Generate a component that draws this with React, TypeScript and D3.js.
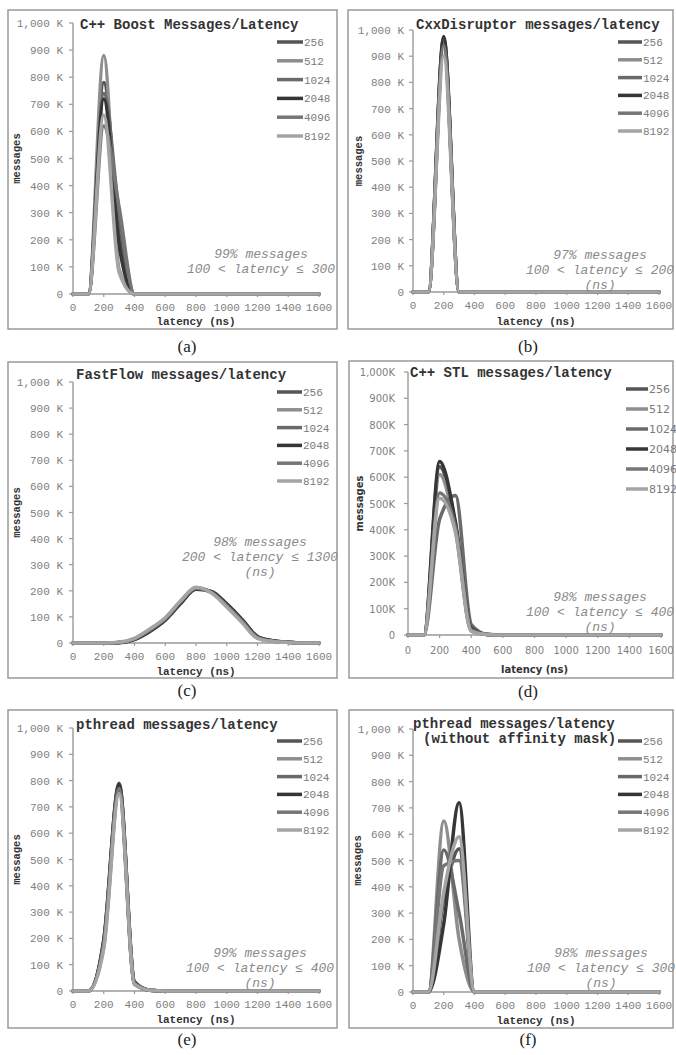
import React from "react";
import * as d3 from "d3";

// ---------- DATA ----------
const latency: number[] = [0, 100, 200, 300, 400, 500, 600, 700, 800, 900, 1000, 1100, 1200, 1300, 1400, 1500, 1600];
const seriesNames: string[] = ["256", "512", "1024", "2048", "4096", "8192"];
const xTicks: number[] = [0, 200, 400, 600, 800, 1000, 1200, 1400, 1600];
const yTicks: number[] = [0, 100, 200, 300, 400, 500, 600, 700, 800, 900, 1000];

// values in K messages, one row per series (256..8192)
const boostSeries: number[][] = [
  [0, 0, 780, 220, 0, 0, 0, 0, 0, 0, 0, 0, 0, 0, 0, 0, 0],
  [0, 0, 880, 90, 0, 0, 0, 0, 0, 0, 0, 0, 0, 0, 0, 0, 0],
  [0, 0, 740, 300, 0, 0, 0, 0, 0, 0, 0, 0, 0, 0, 0, 0, 0],
  [0, 0, 720, 180, 0, 0, 0, 0, 0, 0, 0, 0, 0, 0, 0, 0, 0],
  [0, 0, 620, 320, 0, 0, 0, 0, 0, 0, 0, 0, 0, 0, 0, 0, 0],
  [0, 0, 660, 80, 0, 0, 0, 0, 0, 0, 0, 0, 0, 0, 0, 0, 0],
];
const disruptorSeries: number[][] = [
  [0, 0, 970, 0, 0, 0, 0, 0, 0, 0, 0, 0, 0, 0, 0, 0, 0],
  [0, 0, 950, 0, 0, 0, 0, 0, 0, 0, 0, 0, 0, 0, 0, 0, 0],
  [0, 0, 960, 0, 0, 0, 0, 0, 0, 0, 0, 0, 0, 0, 0, 0, 0],
  [0, 0, 975, 0, 0, 0, 0, 0, 0, 0, 0, 0, 0, 0, 0, 0, 0],
  [0, 0, 940, 0, 0, 0, 0, 0, 0, 0, 0, 0, 0, 0, 0, 0, 0],
  [0, 0, 900, 0, 0, 0, 0, 0, 0, 0, 0, 0, 0, 0, 0, 0, 0],
];
const fastflowSeries: number[][] = [
  [0, 0, 0, 2, 15, 48, 90, 155, 210, 195, 145, 85, 22, 8, 3, 0, 0],
  [0, 0, 0, 2, 17, 52, 95, 160, 212, 193, 140, 80, 19, 7, 3, 0, 0],
  [0, 0, 0, 2, 15, 47, 91, 156, 208, 196, 146, 86, 23, 8, 3, 0, 0],
  [0, 0, 0, 1, 13, 44, 87, 151, 206, 198, 150, 90, 25, 9, 3, 0, 0],
  [0, 0, 0, 2, 16, 50, 93, 158, 210, 194, 143, 83, 21, 7, 3, 0, 0],
  [0, 0, 0, 3, 18, 54, 97, 162, 214, 192, 138, 78, 18, 6, 2, 0, 0],
];
const stlSeries: number[][] = [
  [0, 0, 640, 420, 20, 2, 0, 0, 0, 0, 0, 0, 0, 0, 0, 0, 0],
  [0, 0, 610, 400, 15, 2, 0, 0, 0, 0, 0, 0, 0, 0, 0, 0, 0],
  [0, 0, 440, 530, 40, 3, 0, 0, 0, 0, 0, 0, 0, 0, 0, 0, 0],
  [0, 0, 660, 430, 25, 2, 0, 0, 0, 0, 0, 0, 0, 0, 0, 0, 0],
  [0, 0, 540, 410, 20, 2, 0, 0, 0, 0, 0, 0, 0, 0, 0, 0, 0],
  [0, 0, 520, 390, 15, 2, 0, 0, 0, 0, 0, 0, 0, 0, 0, 0, 0],
];
const pthreadSeries: number[][] = [
  [0, 0, 190, 790, 30, 3, 0, 0, 0, 0, 0, 0, 0, 0, 0, 0, 0],
  [0, 0, 170, 760, 25, 3, 0, 0, 0, 0, 0, 0, 0, 0, 0, 0, 0],
  [0, 0, 185, 780, 28, 3, 0, 0, 0, 0, 0, 0, 0, 0, 0, 0, 0],
  [0, 0, 195, 785, 35, 3, 0, 0, 0, 0, 0, 0, 0, 0, 0, 0, 0],
  [0, 0, 180, 770, 30, 3, 0, 0, 0, 0, 0, 0, 0, 0, 0, 0, 0],
  [0, 0, 160, 750, 25, 3, 0, 0, 0, 0, 0, 0, 0, 0, 0, 0, 0],
];
const pthreadNoMaskSeries: number[][] = [
  [0, 0, 350, 545, 0, 0, 0, 0, 0, 0, 0, 0, 0, 0, 0, 0, 0],
  [0, 0, 650, 200, 0, 0, 0, 0, 0, 0, 0, 0, 0, 0, 0, 0, 0],
  [0, 0, 540, 300, 0, 0, 0, 0, 0, 0, 0, 0, 0, 0, 0, 0, 0],
  [0, 0, 260, 720, 0, 0, 0, 0, 0, 0, 0, 0, 0, 0, 0, 0, 0],
  [0, 0, 480, 500, 0, 0, 0, 0, 0, 0, 0, 0, 0, 0, 0, 0, 0],
  [0, 0, 380, 590, 0, 0, 0, 0, 0, 0, 0, 0, 0, 0, 0, 0, 0],
];

const titles: string[][] = [
  ["C++ Boost Messages/Latency"],
  ["CxxDisruptor messages/latency"],
  ["FastFlow messages/latency"],
  ["C++ STL messages/latency"],
  ["pthread messages/latency"],
  ["pthread messages/latency", "(without affinity mask)"],
];
const notes: string[][] = [
  ["99% messages", "100 < latency \u2264 300"],
  ["97% messages", "100 < latency \u2264 200", "(ns)"],
  ["98% messages", "200 < latency \u2264 1300", "(ns)"],
  ["98% messages", "100 < latency \u2264 400", "(ns)"],
  ["99% messages", "100 < latency \u2264 400", "(ns)"],
  ["98% messages", "100 < latency \u2264 300", "(ns)"],
];
const captions: string[] = ["(a)", "(b)", "(c)", "(d)", "(e)", "(f)"];
const allSeries: number[][][] = [boostSeries, disruptorSeries, fastflowSeries, stlSeries, pthreadSeries, pthreadNoMaskSeries];

// ---------- STYLE / LAYOUT ----------
const seriesColors = ["#555555", "#8e8e8e", "#6a6a6a", "#363636", "#767676", "#a4a4a4"];
const MONO = "'Liberation Mono', 'DejaVu Sans Mono', monospace";
const SANS = "'DejaVu Sans', Verdana, sans-serif";

type Layout = {
  frame: [number, number, number, number];
  x0: number; x1: number; yTop: number; yBot: number;
  titleX: number[]; titleY: number[];
  legX0: number; legX1: number; legY0: number; legDy: number;
  noteX: number; noteY: number;
  msgX: number; latY: number;
  capX: number; capY: number;
  sans: boolean; labelGap: number;
};

const layouts: Layout[] = [
  { frame: [8, 10, 329, 319], x0: 73, x1: 319, yTop: 23, yBot: 294, titleX: [80], titleY: [29],
    legX0: 277, legX1: 303, legY0: 42, legDy: 18.8, noteX: 261, noteY: 254, msgX: 16, latY: 321, capX: 187, capY: 352, sans: false, labelGap: 10 },
  { frame: [348, 10, 325, 319], x0: 413, x1: 659, yTop: 30, yBot: 292, titleX: [416], titleY: [29],
    legX0: 618, legX1: 642, legY0: 42, legDy: 17.8, noteX: 600, noteY: 255, msgX: 358, latY: 321, capX: 528, capY: 352, sans: false, labelGap: 9 },
  { frame: [8, 362, 329, 316], x0: 73, x1: 319, yTop: 382, yBot: 643, titleX: [76], titleY: [379],
    legX0: 277, legX1: 302, legY0: 392, legDy: 17.8, noteX: 260, noteY: 542, msgX: 16, latY: 671, capX: 187, capY: 696, sans: false, labelGap: 10 },
  { frame: [349, 361, 324, 317], x0: 408, x1: 661, yTop: 372, yBot: 635, titleX: [410], titleY: [377],
    legX0: 626, legX1: 648, legY0: 389, legDy: 20, noteX: 600, noteY: 597, msgX: 359, latY: 669, capX: 528, capY: 697, sans: true, labelGap: 13 },
  { frame: [8, 710, 329, 318], x0: 73, x1: 319, yTop: 728, yBot: 991, titleX: [76], titleY: [729],
    legX0: 277, legX1: 302, legY0: 741, legDy: 17.8, noteX: 260, noteY: 953, msgX: 16, latY: 1019, capX: 187, capY: 1045, sans: false, labelGap: 10 },
  { frame: [349, 710, 324, 318], x0: 413, x1: 659, yTop: 729, yBot: 992, titleX: [413, 423], titleY: [728, 743],
    legX0: 618, legX1: 642, legY0: 741, legDy: 17.8, noteX: 601, noteY: 953, msgX: 357, latY: 1020, capX: 528, capY: 1045, sans: false, labelGap: 9 },
];

function fmtY(v: number, sans: boolean): string {
  if (v === 0) return "0";
  const s = d3.format(",")(v);
  return sans ? s + "K" : s + " K";
}

function Panel({ idx }: { idx: number }) {
  const L = layouts[idx];
  const series = allSeries[idx];
  const x = d3.scaleLinear().domain([0, 1600]).range([L.x0, L.x1]);
  const y = d3.scaleLinear().domain([0, 1000]).range([L.yBot, L.yTop]);
  const line = d3
    .line<number>()
    .x((_, i) => x(latency[i]))
    .y((d) => y(d))
    .curve(d3.curveMonotoneX);
  const tickFont = L.sans ? SANS : MONO;
  const tickSize = L.sans ? 10 : 11;
  const axisColor = "#9a9a9a";
  const [fx, fy, fw, fh] = L.frame;
  return (
    <g>
      <rect x={fx} y={fy} width={fw} height={fh} fill="#fff" stroke="#8a8a8a" strokeWidth={1.3} />
      {/* axes */}
      <line x1={L.x0} x2={L.x0} y1={L.yTop} y2={L.yBot} stroke={axisColor} strokeWidth={1.4} />
      <line x1={L.x0} x2={L.x1} y1={L.yBot} y2={L.yBot} stroke={axisColor} strokeWidth={1.4} />
      {yTicks.map((t) => (
        <g key={"y" + t}>
          <line x1={L.x0 - 4} x2={L.x0} y1={y(t)} y2={y(t)} stroke={axisColor} strokeWidth={1.2} />
          <text x={L.x0 - L.labelGap} y={y(t) + 4} textAnchor="end" fontFamily={tickFont} fontSize={tickSize} fill="#808080">
            {fmtY(t, L.sans)}
          </text>
        </g>
      ))}
      {xTicks.map((t) => (
        <g key={"x" + t}>
          <line x1={x(t)} x2={x(t)} y1={L.yBot} y2={L.yBot + 3} stroke={axisColor} strokeWidth={1.2} />
          <text x={x(t)} y={L.yBot + (L.sans ? 19 : 17)} textAnchor="middle" fontFamily={tickFont} fontSize={tickSize} fill="#808080">
            {t}
          </text>
        </g>
      ))}
      <text x={(L.x0 + L.x1) / 2} y={L.latY + 4} textAnchor="middle" fontFamily={tickFont} fontWeight="bold" fontSize={L.sans ? 10 : 11} fill="#333">
        latency (ns)
      </text>
      <text
        transform={`translate(${L.msgX},${(L.yTop + L.yBot) / 2}) rotate(-90)`}
        textAnchor="middle"
        dy={4}
        fontFamily={tickFont}
        fontWeight="bold"
        fontSize={L.sans ? 10 : 10.5}
        fill="#333"
      >
        messages
      </text>
      {/* series */}
      {series.map((s, i) => (
        <path key={"s" + i} d={line(s) || ""} fill="none" stroke={seriesColors[i]} strokeWidth={3.5} strokeLinejoin="round" strokeLinecap="round" />
      ))}
      {/* title */}
      {titles[idx].map((t, i) => (
        <text key={"t" + i} x={L.titleX[i]} y={L.titleY[i]} fontFamily={MONO} fontWeight="bold" fontSize={14} fill="#333">
          {t}
        </text>
      ))}
      {/* legend */}
      {seriesNames.map((n, i) => {
        const ly = L.legY0 + i * L.legDy;
        return (
          <g key={"l" + n}>
            <line x1={L.legX0} x2={L.legX1} y1={ly} y2={ly} stroke={seriesColors[i]} strokeWidth={3.5} />
            <text x={L.legX1 + 1} y={ly + 4} fontFamily={L.sans ? SANS : MONO} fontSize={11} fill="#7a7a7a">
              {n}
            </text>
          </g>
        );
      })}
      {/* annotation */}
      {notes[idx].map((t, i) => (
        <text key={"n" + i} x={L.noteX} y={L.noteY + 4 + i * 15} textAnchor="middle" fontFamily={MONO} fontStyle="italic" fontSize={13} fill="#8a8a8a">
          {t}
        </text>
      ))}
      <text x={L.capX} y={L.capY} textAnchor="middle" fontFamily="'Liberation Serif', 'DejaVu Serif', serif" fontSize={17} fill="#222">
        {captions[idx]}
      </text>
    </g>
  );
}

export default function App() {
  return (
    <svg width={676} height={1055} style={{ position: "absolute", left: 0, top: 0, display: "block", background: "#fff" }}>
      <rect x={0} y={0} width={676} height={1055} fill="#fff" />
      {layouts.map((_, i) => (
        <Panel key={i} idx={i} />
      ))}
    </svg>
  );
}
